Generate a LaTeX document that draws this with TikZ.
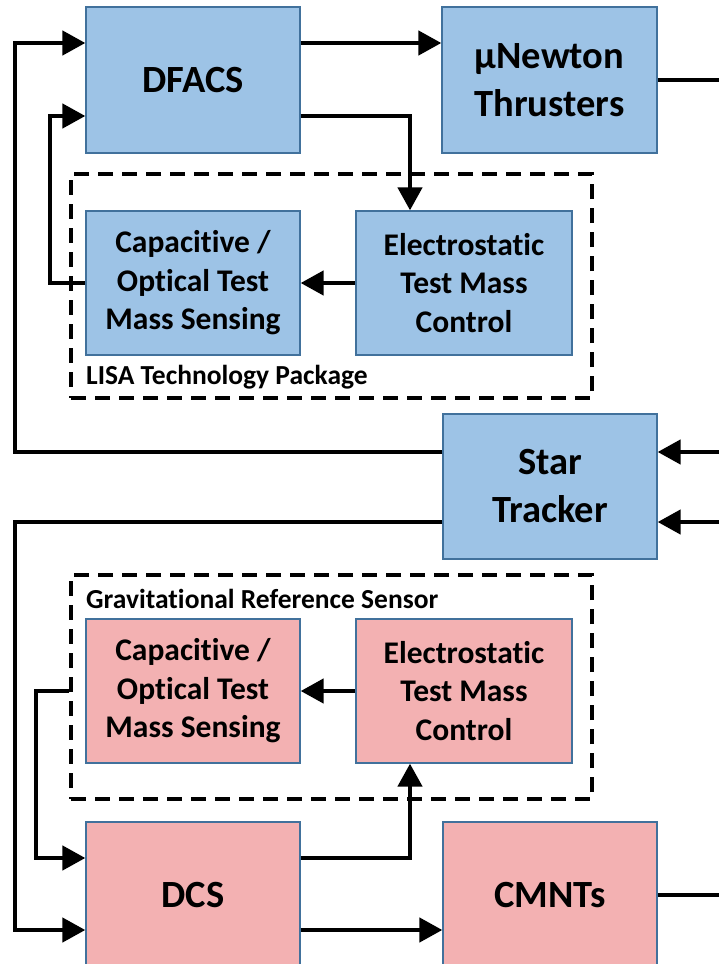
\documentclass[tikz,border=0pt]{standalone}
\usepackage{fontspec}
\setmainfont{Carlito}[Ligatures=NoCommon]
\usetikzlibrary{arrows.meta,calc}
\definecolor{boxblue}{RGB}{157,195,230}
\definecolor{boxred}{RGB}{243,177,178}
\definecolor{boxedge}{RGB}{65,113,156}
\tikzset{
  blk/.style={draw=boxedge, line width=1.3pt, align=center, inner sep=0pt,
    font=\fontsize{31.5}{38.5}\selectfont\bfseries},
  bigblk/.style={blk, font=\fontsize{38.5}{48}\selectfont\bfseries},
  bluebox/.style={fill=boxblue},
  redbox/.style={fill=boxred},
  pkg/.style={draw=black, line width=3.4pt, dash pattern=on 15pt off 9pt, inner sep=0pt},
  pkglabel/.style={font=\fontsize{27.5}{30}\selectfont\bfseries, inner sep=0pt},
  wire/.style={draw=black, line width=4.5pt, line join=miter},
  arr/.style={wire, -{Triangle[length=23pt,width=24pt]}},
}
\begin{document}
\begin{tikzpicture}[x=1pt,y=-1pt]
\useasboundingbox (0,0) rectangle (719,964);
\clip (0,0) rectangle (719,964);

% package outlines
\node[pkg, minimum width=521, minimum height=224] (ltp) at (331.5,286) {};
\node[pkglabel, anchor=base west] (ltplabel) at (86,384) {LISA Technology Package};
\node[pkg, minimum width=521, minimum height=224] (grs) at (331.5,687) {};
\node[pkglabel, anchor=base west] (grslabel) at (86,608) {Gravitational Reference Sensor};

% blocks
\node[bigblk, bluebox, minimum width=214, minimum height=146] (dfacs) at (193,80) {DFACS};
\node[bigblk, bluebox, minimum width=215, minimum height=146] (thr) at (549.5,80) {µNewton\\Thrusters};
\node[blk, bluebox, minimum width=214, minimum height=144] (capA) at (193,283) {Capacitive /\\Optical Test\\Mass Sensing};
\node[blk, bluebox, minimum width=216, minimum height=144] (elecA) at (464,283) {Electrostatic\\Test Mass\\Control};
\node[bigblk, bluebox, minimum width=214, minimum height=145] (star) at (550,486.5) {Star\\Tracker};
\node[blk, redbox, minimum width=214, minimum height=144] (capB) at (193,691) {Capacitive /\\Optical Test\\Mass Sensing};
\node[blk, redbox, minimum width=216, minimum height=144] (elecB) at (464,691) {Electrostatic\\Test Mass\\Control};
\node[bigblk, redbox, minimum width=214, minimum height=146] (dcs) at (193,895) {DCS};
\node[bigblk, redbox, minimum width=214, minimum height=146] (cmnt) at (550,895) {CMNTs};

% ports and rails
\coordinate (dfIn1) at ([yshift=37pt]dfacs.west);
\coordinate (dfIn2) at ([yshift=-36pt]dfacs.west);
\coordinate (dcsIn1) at ([yshift=37pt]dcs.west);
\coordinate (dcsIn2) at ([yshift=-35pt]dcs.west);
\coordinate (railOuter) at (15,0);
\coordinate (railA) at (50,0);
\coordinate (railB) at (36,0);
\coordinate (thrOut) at (730,80);
\coordinate (starIn1) at (730,452);
\coordinate (starIn2) at (730,522);
\coordinate (cmntOut) at (730,895);

% upper loop
\draw[arr] ([yshift=37pt]dfacs.east) -- ([yshift=37pt]thr.west);
\draw[wire] (thr.east) -- (thrOut);
\draw[arr] ([yshift=-36pt]dfacs.east) -| ([xshift=-54pt]elecA.north);
\draw[arr] (elecA.west) -- (capA.east);
\draw[arr] (capA.west) -| (railA |- dfIn2) -- (dfIn2);

% star tracker
\draw[arr] (starIn1) -- ([yshift=34.5pt]star.east);
\draw[arr] (starIn2) -- ([yshift=-35.5pt]star.east);
\draw[arr] ([yshift=34.5pt]star.west) -| (railOuter |- dfIn1) -- (dfIn1);
\draw[arr] ([yshift=-35.5pt]star.west) -| (railOuter |- dcsIn2) -- (dcsIn2);

% lower loop
\draw[arr] (elecB.west) -- (capB.east);
\draw[arr] (grs.west |- capB.west) -| (railB |- dcsIn1) -- (dcsIn1);
\draw[arr] ([yshift=37pt]dcs.east) -| ([xshift=-54pt]elecB.south);
\draw[arr] ([yshift=-35pt]dcs.east) -- ([yshift=-35pt]cmnt.west);
\draw[wire] (cmnt.east) -- (cmntOut);
\end{tikzpicture}
\end{document}
